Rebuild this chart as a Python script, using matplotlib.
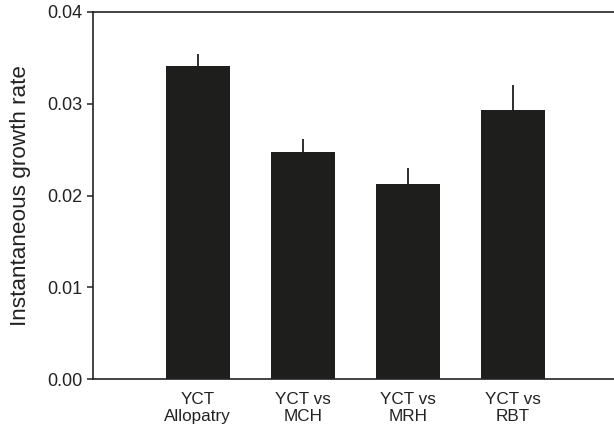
import matplotlib
matplotlib.use("Agg")
import matplotlib.pyplot as plt

plt.rcParams['font.family'] = ['Liberation Sans', 'DejaVu Sans']

groups = ["YCT\nAllopatry", "YCT vs\nMCH", "YCT vs\nMRH", "YCT vs\nRBT"]
rates = [0.0341, 0.0247, 0.0212, 0.0293]
errors = [0.0013, 0.0015, 0.0018, 0.0027]

fig = plt.figure(figsize=(6.14, 4.36), dpi=100)
ax = fig.add_axes([0.1507, 0.1307, 0.8493, 0.8418])

x = list(range(len(groups)))
ax.bar(x, rates, width=0.61, color='#1e1e1c',
       yerr=[[0] * len(errors), errors],
       error_kw=dict(ecolor='#1e1e1c', elinewidth=1.3, capsize=0))

ax.set_xlim(-1.0, 3.96)
ax.set_ylim(0, 0.04)
ax.set_yticks([0.00, 0.01, 0.02, 0.03, 0.04])
ax.set_yticklabels(["0.00", "0.01", "0.02", "0.03", "0.04"], fontsize=13, color='#222222')
ax.set_xticks(x)
ax.set_xticklabels(groups, fontsize=12.3, color='#222222', linespacing=1.2)
ax.tick_params(axis='x', length=0, pad=9)
ax.tick_params(axis='y', length=4, width=1.1, color='#222222', pad=3)
ax.set_ylabel("Instantaneous growth rate", fontsize=16.2, color='#222222', labelpad=12)

for side in ['left', 'bottom', 'top']:
    ax.spines[side].set_linewidth(1.2)
    ax.spines[side].set_color('#222222')
ax.spines['right'].set_visible(False)

fig.savefig("out.png", dpi=100)
